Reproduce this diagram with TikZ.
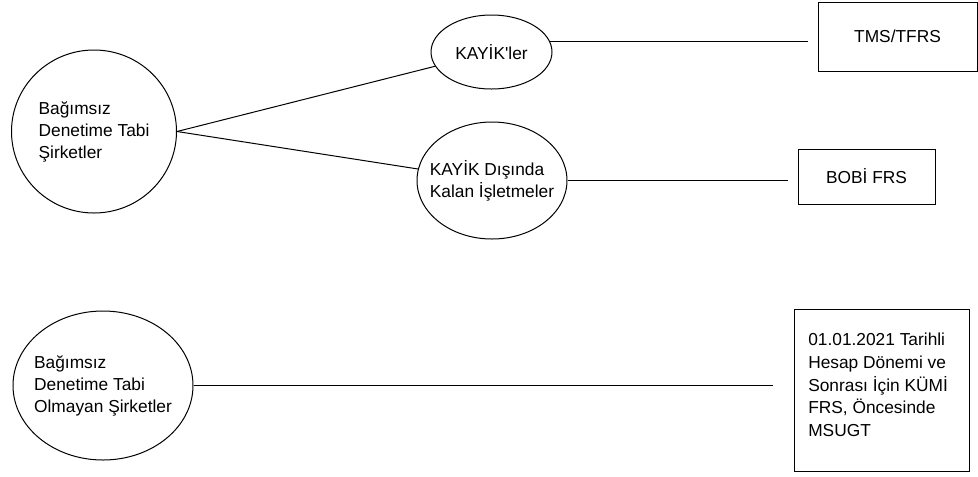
\documentclass[tikz,border=0pt]{standalone}
\usepackage{fontspec}
\setmainfont{Liberation Sans}[Ligatures=TeXOff]
\usetikzlibrary{shapes.geometric}

\begin{document}
\begin{tikzpicture}[x=0.75pt,y=-0.75pt,
    oval/.style={draw=black,line width=0.75pt,ellipse,inner sep=0pt,align=left,
        font=\fontsize{13pt}{16.5pt}\selectfont},
    kutu/.style={draw=black,line width=0.75pt,rectangle,inner sep=0pt,
        font=\fontsize{13pt}{16.5pt}\selectfont},
    yazi/.style={inner sep=0pt,align=left,font=\fontsize{13pt}{17pt}\selectfont},
    hat/.style={black,line width=0.75pt}]
\useasboundingbox (0,0) rectangle (978,476);

\node[oval,minimum width=123.75pt,minimum height=122.25pt,inner xsep=-2pt] (bdt) at (94,131.5)
    {Bağımsız\\Denetime Tabi\\Şirketler};
\node[oval,minimum width=90.75pt,minimum height=55.5pt] (kayik) at (491.5,52) {KAYİK'ler};
\node[oval,minimum width=112.5pt,minimum height=87.75pt,inner xsep=-9pt] (disi) at (492,180.5)
    {KAYİK Dışında\\Kalan İşletmeler};
\node[oval,minimum width=135pt,minimum height=111.75pt,inner xsep=-4pt] (bdto) at (103,385.5)
    {Bağımsız\\Denetime Tabi\\Olmayan Şirketler};

\node[kutu,minimum width=119.25pt,minimum height=51.75pt] (tms) at (897.5,36.5) {TMS/TFRS};
\node[kutu,minimum width=102.75pt,minimum height=41.25pt] (bobi) at (866.5,176.5) {BOBİ FRS};
\node[kutu,minimum width=131.25pt,minimum height=121.5pt] (kumi) at (881.5,390) {};
\node[yazi,anchor=north west] (kumiyazi) at (808,333)
    {01.01.2021 Tarihli\\Hesap Dönemi ve\\Sonrası İçin KÜMİ\\FRS, Öncesinde\\MSUGT};

\draw[hat] (bdt.east) -- (kayik);
\draw[hat] (bdt.east) -- (disi);
\draw[hat,shorten >=7.5pt] (kayik.10) -- (kayik.10 -| tms.west);
\draw[hat,shorten >=7.5pt] (disi.east) -- (disi.east -| bobi.west);
\draw[hat,shorten >=15.75pt] (bdto.east) -- (bdto.east -| kumi.west);
\end{tikzpicture}
\end{document}
